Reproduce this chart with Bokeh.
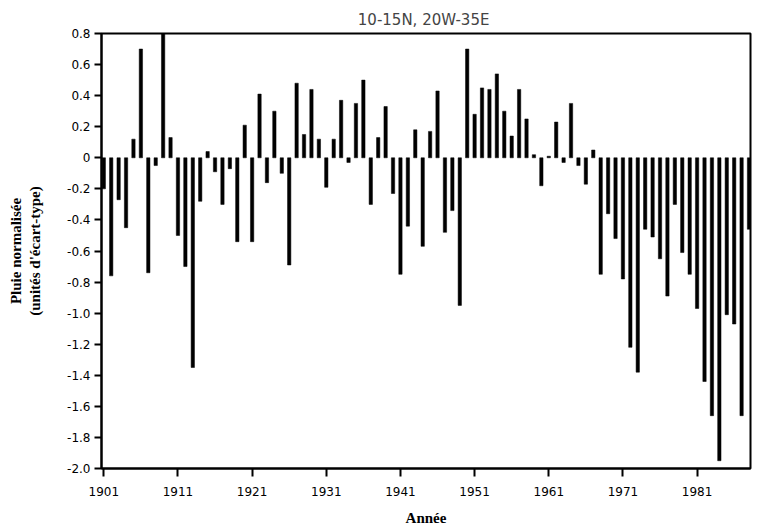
from bokeh.plotting import figure
from bokeh.models import ColumnDataSource, FixedTicker, CustomJSTickFormatter, Range1d
from bokeh.embed import file_html
from bokeh.resources import INLINE

years = list(range(1901, 1989))
rain = [
    -0.20, -0.76, -0.27, -0.45, 0.12, 0.70, -0.74, -0.05, 0.80, 0.13,   # 1901-1910
    -0.50, -0.70, -1.35, -0.28, 0.04, -0.09, -0.30, -0.07, -0.54, 0.21,  # 1911-1920
    -0.54, 0.41, -0.16, 0.30, -0.10, -0.69, 0.48, 0.15, 0.44, 0.12,      # 1921-1930
    -0.19, 0.12, 0.37, -0.03, 0.35, 0.50, -0.30, 0.13, 0.33, -0.23,      # 1931-1940
    -0.75, -0.44, 0.18, -0.57, 0.17, 0.43, -0.48, -0.34, -0.95, 0.70,    # 1941-1950
    0.28, 0.45, 0.44, 0.54, 0.30, 0.14, 0.44, 0.25, 0.02, -0.18,         # 1951-1960
    0.01, 0.23, -0.03, 0.35, -0.05, -0.17, 0.05, -0.75, -0.36, -0.52,    # 1961-1970
    -0.78, -1.22, -1.38, -0.46, -0.51, -0.65, -0.89, -0.30, -0.61, -0.75,  # 1971-1980
    -0.97, -1.44, -1.66, -1.95, -1.01, -1.07, -1.66, -0.46,              # 1981-1988
]
x_ticks = [1901, 1911, 1921, 1931, 1941, 1951, 1961, 1971, 1981]
y_ticks = [-2.0, -1.8, -1.6, -1.4, -1.2, -1.0, -0.8, -0.6, -0.4, -0.2, 0.0, 0.2, 0.4, 0.6, 0.8]

title_text = "10-15N,  20W-35E"
x_label = "Année"
y_label = "Pluie normalisée\n(unités d'écart-type)"

src = ColumnDataSource(dict(year=years, rain=rain))

p = figure(width=754, height=528, output_backend="svg", toolbar_location=None,
           x_range=Range1d(1900.69, 1988.2), y_range=Range1d(-2.0, 0.8),
           min_border_left=101, min_border_right=4, min_border_top=33, min_border_bottom=60,
           title=title_text)

p.vbar(x="year", top="rain", bottom=0, width=0.45, source=src,
       fill_color="black", line_color="black", line_width=0.5)

p.title.align = "center"
p.title.text_font = "DejaVu Sans"
p.title.text_font_style = "normal"
p.title.text_font_size = "15px"
p.title.offset = 8

p.grid.visible = False
p.outline_line_color = "black"
p.outline_line_width = 2
p.background_fill_color = "white"
p.border_fill_color = "white"

for ax in (p.xaxis[0], p.yaxis[0]):
    ax.axis_line_width = 2
    ax.axis_line_color = "black"
    ax.major_tick_line_width = 2
    ax.major_tick_line_color = "black"
    ax.major_tick_in = 0
    ax.minor_tick_line_color = None
    ax.major_label_text_font = "DejaVu Sans"
    ax.major_label_text_font_size = "12px"
    ax.major_label_text_color = "black"
    ax.axis_label_text_font = "Liberation Serif"
    ax.axis_label_text_font_style = "bold"
    ax.axis_label_text_font_size = "15px"
    ax.axis_label_text_color = "black"

p.xaxis[0].ticker = FixedTicker(ticks=x_ticks)
p.xaxis[0].major_tick_out = 8
p.xaxis[0].major_label_standoff = 10
p.xaxis[0].axis_label = x_label
p.xaxis[0].axis_label_standoff = 11

p.yaxis[0].ticker = FixedTicker(ticks=y_ticks)
p.yaxis[0].major_tick_out = 7
p.yaxis[0].major_label_standoff = 4
p.yaxis[0].formatter = CustomJSTickFormatter(
    code="return Math.abs(tick) < 1e-9 ? '0' : tick.toFixed(1);")
p.yaxis[0].axis_label = y_label
p.yaxis[0].axis_label_standoff = 21

open("out.html", "w").write(file_html(p, INLINE))
